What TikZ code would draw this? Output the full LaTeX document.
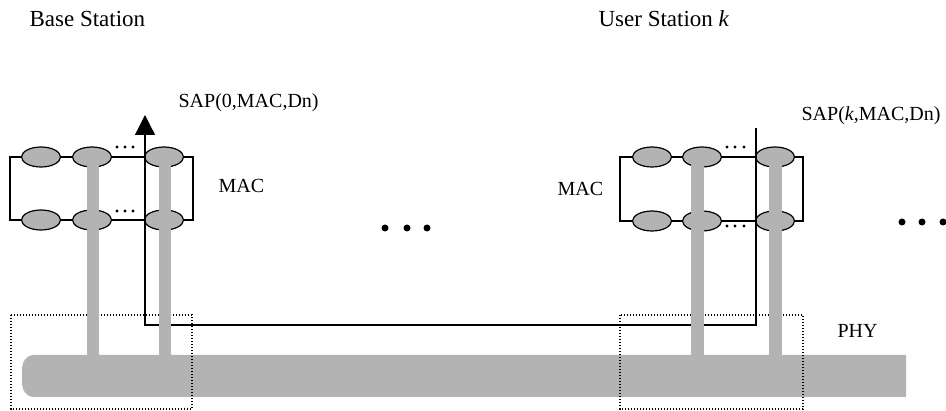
\documentclass[tikz,border=0pt]{standalone}
\usepackage{fontspec}
\setmainfont{Liberation Serif}
\usetikzlibrary{shapes.geometric,arrows.meta}
\definecolor{phygray}{RGB}{179,179,179}
\begin{document}
\begin{tikzpicture}[x=1pt,y=-1pt,line width=1.2pt,
  sdu/.style={ellipse,draw=black,fill=phygray,line width=1.2pt,
    minimum width=39pt,minimum height=20pt,inner sep=0pt},
  titletext/.style={anchor=base west,inner sep=0pt,font=\fontsize{23}{27}\selectfont},
  labeltext/.style={anchor=base west,inner sep=0pt,font=\fontsize{20}{24}\selectfont},
  region/.style={draw=black,line width=1.3pt,dash pattern=on 1.3pt off 1.7pt},
  sapline/.style={draw=black,line width=1.3pt,-{Triangle[width=20pt,length=20pt]}},
  smalldot/.style={fill=black},
  bigdot/.style={fill=black}]
\useasboundingbox (0,0) rectangle (946,411);

% physical layer pipe
\fill[phygray] (906,355) -- (34,355) .. controls (26,355) and (22,362) .. (22,370)
  -- (22,382) .. controls (22,390) and (26,397) .. (34,397) -- (906,397) -- cycle;

% PHY regions of the two stations
\draw[region] (11,315) rectangle (192,409);
\draw[region] (620,315) rectangle (803,409);

% MAC connection rings
\draw (10,157) rectangle (193,220);
\draw (620,157) rectangle (803,221);

% base station connections
\node[sdu] (b1) at (41,157) {};
\node[sdu] (b2) at (92,157) {};
\node[sdu] (b3) at (164,157) {};
\node[sdu] (b4) at (41,220) {};
\node[sdu] (b5) at (92,220) {};
\node[sdu] (b6) at (164,220) {};

% user station connections
\node[sdu] (u1) at (652,157) {};
\node[sdu] (u2) at (702,157) {};
\node[sdu] (u3) at (775,157) {};
\node[sdu] (u4) at (652,221) {};
\node[sdu] (u5) at (702,221) {};
\node[sdu] (u6) at (775,221) {};

% service access point path
\coordinate (sapk) at (756,128);
\coordinate (sapturn) at (145,325);
\coordinate (sap0) at (145,115);
\draw[sapline] (sapk) |- (sapturn) -- (sap0);

% vertical flows down to the PHY
\fill[phygray] (87,163) rectangle (99,356);
\fill[phygray] (159,163) rectangle (171,356);
\fill[phygray] (691,163) rectangle (704,356);
\fill[phygray] (769,163) rectangle (782,356);

% small ellipsis marks
\foreach \x in {117,125,133} {
  \fill[smalldot] (\x,147) circle (1.7);
  \fill[smalldot] (\x,211) circle (1.7);
}
\foreach \x in {727,735,744} {
  \fill[smalldot] (\x,147) circle (1.7);
  \fill[smalldot] (\x,226) circle (1.7);
}
% large ellipsis marks
\foreach \x in {385,407,427} \fill[bigdot] (\x,228) circle (3.5);
\foreach \x in {902,922,943} \fill[bigdot] (\x,222) circle (3.5);

% labels
\node[titletext] (tbs) at (29,27) {Base Station};
\node[titletext] (tus) at (598,27) {User Station \textit{k}};
\node[labeltext] (sap0l) at (178,108) {SAP(0,MAC,Dn)};
\node[labeltext] (sapkl) at (801,121) {SAP(\textit{k},MAC,Dn)};
\node[labeltext] (macb) at (218,193) {MAC};
\node[labeltext] (macu) at (557,196) {MAC};
\node[labeltext] (phy) at (837,338) {PHY};
\end{tikzpicture}
\end{document}
